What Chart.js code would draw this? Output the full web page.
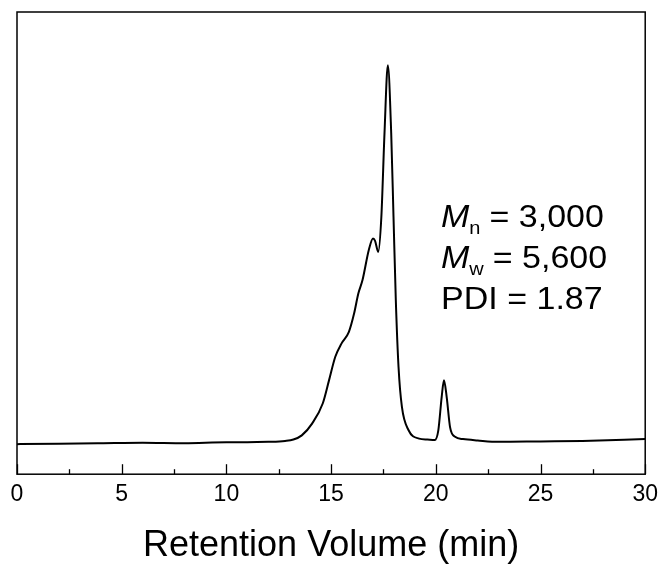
<!DOCTYPE html>
<html>
<head>
<meta charset="utf-8">
<script src="https://cdn.jsdelivr.net/npm/chart.js@4"></script>
<style>
  html, body { margin: 0; padding: 0; background: #fff; }
  #wrap { width: 665px; height: 568px; }
</style>
</head>
<body>
<div id="wrap"><canvas id="gpc"></canvas></div>
<script>
// retention volume (min) and detector signal (arbitrary units)
const retention = [0, 2, 4, 6, 8, 10, 11, 12, 12.8, 13.2, 13.6, 14.1, 14.6, 14.9, 15.2, 15.5, 15.85, 16.1, 16.3, 16.5, 16.8, 17.0, 17.1, 17.25, 17.4, 17.55, 17.71, 17.87, 17.98, 18.09, 18.22, 18.38, 18.7, 19.2, 19.6, 19.95, 20.12, 20.28, 20.39, 20.52, 20.68, 20.92, 21.3, 22, 23, 25, 27, 30];
const signal = [6.5, 6.6, 6.7, 6.8, 6.7, 6.9, 6.9, 7.0, 7.2, 7.5, 8.4, 11.0, 15.3, 20.3, 25.4, 28.3, 30.8, 34.8, 39.1, 42.0, 48.5, 51.0, 50.5, 48.1, 55.7, 73.8, 88.5, 73.8, 55.7, 37.7, 23.2, 14.6, 9.5, 7.7, 7.5, 7.4, 9.5, 16.7, 20.3, 16.7, 10.2, 8.1, 7.6, 7.3, 7.0, 7.1, 7.2, 7.6];
const xTicks = [0, 5, 10, 15, 20, 25, 30];
const statLabels = ['n', 'w', null];
const statValues = ['= 3,000', '= 5,600', 'PDI = 1.87'];

const FONT = "'Liberation Sans', Arial, sans-serif";

// text in the reference is a little squashed vertically
const squashText = (ctx, txt, x, y, sy) => {
  ctx.save();
  ctx.translate(x, y);
  ctx.scale(1, sy);
  ctx.fillText(txt, 0, 0);
  ctx.restore();
};

const framePlugin = {
  id: 'frame',
  afterDraw(chart) {
    const { ctx, chartArea: a, scales } = chart;
    const xs = scales.x, ys = scales.y;
    ctx.save();
    ctx.strokeStyle = '#000';
    ctx.lineWidth = 1.5;
    ctx.strokeRect(a.left, a.top, a.right - a.left, a.bottom - a.top);
    // inward ticks on the bottom axis
    ctx.lineWidth = 1.3;
    xs.ticks.forEach(t => {
      const px = Math.round(xs.getPixelForValue(t.value)) + 0.5;
      const len = xTicks.includes(t.value) ? 10 : 5;
      ctx.beginPath();
      ctx.moveTo(px, a.bottom);
      ctx.lineTo(px, a.bottom - len);
      ctx.stroke();
    });

    // Mn / Mw / PDI text
    ctx.fillStyle = '#000';
    ctx.textBaseline = 'alphabetic';
    const x0 = xs.getPixelForValue(20.25);
    const y0 = ys.getPixelForValue(53.5);
    const lh = 41;
    const sy = 0.94;
    statValues.forEach((v, i) => {
      const y = y0 + i * lh;
      let x = x0;
      if (statLabels[i]) {
        ctx.font = 'italic 34px ' + FONT;
        squashText(ctx, 'M', x, y, sy);
        x += ctx.measureText('M').width;
        ctx.font = '20px ' + FONT;
        squashText(ctx, statLabels[i], x, y + 7.5, sy);
        x += ctx.measureText(statLabels[i]).width + 9;
      }
      ctx.font = '34px ' + FONT;
      squashText(ctx, v, x, y, sy);
    });
    ctx.restore();
  }
};

new Chart(document.getElementById('gpc'), {
  type: 'line',
  data: {
    datasets: [{
      data: retention.map((r, i) => ({ x: r, y: signal[i] })),
      borderColor: '#000',
      borderWidth: 2,
      pointRadius: 0,
      cubicInterpolationMode: 'monotone',
      fill: false
    }]
  },
  options: {
    responsive: true,
    maintainAspectRatio: false,
    animation: false,
    layout: { padding: { left: 17, right: 4, top: 12, bottom: 0 } },
    plugins: { legend: { display: false }, tooltip: { enabled: false } },
    scales: {
      x: {
        type: 'linear',
        min: 0,
        max: 30,
        grid: { display: false, drawTicks: false },
        border: { display: false },
        ticks: {
          stepSize: 2.5,
          autoSkip: false,
          maxRotation: 0,
          padding: 7,
          color: '#000',
          font: { family: FONT, size: 23 },
          callback: v => (v % 5 === 0 ? v : '')
        },
        title: {
          display: true,
          text: 'Retention Volume (min)',
          color: '#000',
          font: { family: FONT, size: 36 },
          padding: { top: 9, bottom: 0 }
        }
      },
      y: {
        display: false,
        min: 0,
        max: 100
      }
    }
  },
  plugins: [framePlugin]
});
</script>
</body>
</html>
